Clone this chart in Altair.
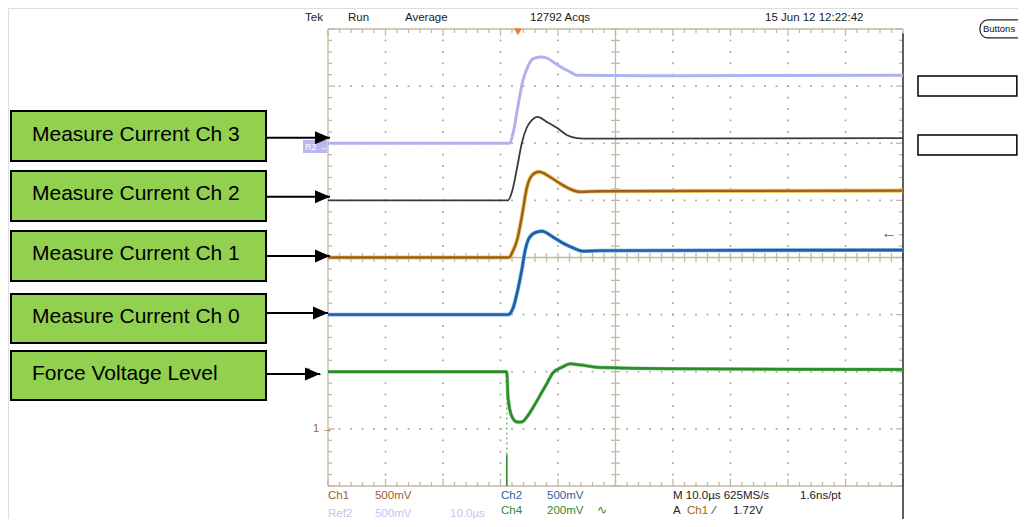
import altair as alt
import pandas as pd
import numpy as np

# ---------------- data (screen divisions: x 0..10 @10us/div, y 0..8) ----------------
ch3_x = [0, 3.16, 3.22, 3.30, 3.39, 3.48, 3.57, 3.69, 3.81, 3.95, 4.09, 4.21, 4.33, 6.0, 10]
ch3_y = [6.0, 6.0, 6.18, 6.63, 7.10, 7.35, 7.48, 7.51, 7.49, 7.40, 7.31, 7.25, 7.19, 7.18, 7.19]

ch2_x = [0, 3.13, 3.20, 3.29, 3.37, 3.46, 3.55, 3.64, 3.81, 3.98, 4.16, 4.33, 4.56, 10]
ch2_y = [5.0, 5.0, 5.15, 5.58, 6.0, 6.28, 6.41, 6.46, 6.37, 6.27, 6.14, 6.09, 6.08, 6.09]

ch1_x = [0, 3.15, 3.20, 3.29, 3.37, 3.46, 3.55, 3.67, 3.86, 4.03, 4.21, 4.38, 4.73, 10]
ch1_y = [4.0, 4.0, 4.08, 4.31, 4.71, 5.23, 5.44, 5.50, 5.41, 5.30, 5.20, 5.15, 5.16, 5.17]

ch0_x = [0, 3.13, 3.22, 3.30, 3.37, 3.43, 3.51, 3.64, 3.72, 3.91, 4.09, 4.26, 4.43, 4.73, 10]
ch0_y = [3.0, 3.0, 3.12, 3.43, 3.78, 4.13, 4.36, 4.45, 4.46, 4.36, 4.25, 4.17, 4.11, 4.12, 4.13]

force_x = [0, 3.11, 3.13, 3.20, 3.29, 3.37, 3.46, 3.57, 3.69, 3.81, 3.91, 4.07, 4.21, 4.38, 4.68, 4.96, 6.47, 10]
force_y = [2.0, 2.0, 1.56, 1.21, 1.12, 1.12, 1.21, 1.38, 1.59, 1.80, 1.98, 2.08, 2.14, 2.12, 2.08, 2.07, 2.05, 2.04]

spike_x = 3.11

label_texts = ["Measure Current Ch 3", "Measure Current Ch 2", "Measure Current Ch 1",
               "Measure Current Ch 0", "Force Voltage Level"]
label_box_y = [6.565, 5.514, 4.464, 3.361, 2.363]
label_box_y2 = [5.689, 4.639, 3.589, 2.503, 1.505]
label_text_y = [6.153, 5.103, 4.053, 2.958, 1.961]
arrow_y = [6.097, 5.064, 4.026, 3.028, 1.961]
arrow_tip = [0.035, 0.035, 0.035, 0.0, -0.139]

header_texts = ["Tek", "Run", "Average", "12792 Acqs", "15 Jun 12 12:22:42"]
header_x = [-0.40, 0.348, 1.339, 3.513, 7.60]

footer_texts = ["Ch1", "500mV", "Ch2", "500mV", "M 10.0µs 625MS/s", "1.6ns/pt",
                "Ch4", "200mV", "∿", "A", "Ch1", "⁄", "1.72V",
                "Ref2", "500mV", "10.0µs"]
footer_x = [0.0, 0.817, 3.009, 3.809, 6.0, 8.209,
            3.009, 3.809, 4.678, 6.0, 6.243, 6.70, 7.043,
            0.0, 0.817, 2.122]
footer_y = [-0.175] * 6 + [-0.438] * 7 + [-0.49] * 3
footer_col = ["#9a6424", "#9a6424", "#2a5f9e", "#2a5f9e", "#222222", "#222222",
              "#2e8b2e", "#2e8b2e", "#2e8b2e", "#222222", "#9a6424", "#222222", "#222222",
              "#c4c4ee", "#c4c4ee", "#c4c4ee"]

# ---------------- scales ----------------
XS = alt.Scale(domain=[-5.5652, 12.0], nice=False, zero=False)
YS = alt.Scale(domain=[-0.5777, 8.3676], nice=False, zero=False)


def ex(f):
    return alt.X(f"{f}:Q", scale=XS, axis=None)


def ey(f):
    return alt.Y(f"{f}:Q", scale=YS, axis=None)


PX_X = 1 / 57.5
PX_Y = 1 / 57.125
TAN = "#c2b9a0"

layers = []

# green label boxes
boxes = pd.DataFrame({"x": [-5.513] * 5, "x2": [-1.078] * 5, "y": label_box_y, "y2": label_box_y2})
layers.append(alt.Chart(boxes).mark_rect(fill="#92d050", stroke="#000000", strokeWidth=2).encode(
    x=ex("x"), x2="x2", y=ey("y"), y2="y2"))

# right side white boxes
wboxes = pd.DataFrame({"x": [10.261, 10.261], "x2": [11.98, 11.98], "y": [7.177, 6.144], "y2": [6.827, 5.794]})
layers.append(alt.Chart(wboxes).mark_rect(fill="white", stroke="#000000", strokeWidth=1.5).encode(
    x=ex("x"), x2="x2", y=ey("y"), y2="y2"))

# Buttons rounded box
bbox = pd.DataFrame({"x": [11.339], "x2": [12.2], "y": [8.158], "y2": [7.843]})
layers.append(alt.Chart(bbox).mark_rect(fill="white", stroke="#222222", strokeWidth=1.2, cornerRadius=8).encode(
    x=ex("x"), x2="x2", y=ey("y"), y2="y2"))

# R2 marker background
r2 = pd.DataFrame({"x": [-0.435], "x2": [-0.017], "y": [6.057], "y2": [5.829]})
layers.append(alt.Chart(r2).mark_rect(fill="#b8b8f0").encode(x=ex("x"), x2="x2", y=ey("y"), y2="y2"))

# grid dots
dots = []
for gx in [1, 2, 3, 4, 6, 7, 8, 9]:
    for k in range(1, 40):
        dots.append({"x": gx, "y": k * 0.2})
for gy in [1, 2, 3, 5, 6, 7]:
    for k in range(1, 50):
        dots.append({"x": k * 0.2, "y": gy})
layers.append(alt.Chart(pd.DataFrame(dots)).mark_square(size=3, color="#ada58e", opacity=1).encode(
    x=ex("x"), y=ey("y")))

# graticule rules and ticks
rules = []


def add(x, x2, y, y2):
    rules.append({"x": x, "x2": x2, "y": y, "y2": y2})


add(0, 0, 0, 8)
add(0, 10, 8, 8)
add(0, 10, 0, 0)
add(5, 5, 0, 8)
add(0, 10, 4, 4)
for k in range(51):
    xv = k * 0.2
    L = 7 if k % 5 == 0 else 4
    add(xv, xv, 8, 8 - L * PX_Y)
    add(xv, xv, 0, L * PX_Y)
    add(xv, xv, 4 - 4.5 * PX_Y, 4 + 4.5 * PX_Y)
for k in range(41):
    yv = k * 0.2
    L = 7 if k % 5 == 0 else 4
    add(0, L * PX_X, yv, yv)
    add(10 - L * PX_X, 10, yv, yv)
    add(5 - 4.5 * PX_X, 5 + 4.5 * PX_X, yv, yv)
layers.append(alt.Chart(pd.DataFrame(rules)).mark_rule(color=TAN, strokeWidth=1.3).encode(
    x=ex("x"), x2="x2", y=ey("y"), y2="y2"))

# right dark edge
edge = pd.DataFrame({"x": [10], "y": [7.92], "y2": [-0.7]})
layers.append(alt.Chart(edge).mark_rule(color="#2a2a2a", strokeWidth=1.5).encode(x=ex("x"), y=ey("y"), y2="y2"))


# traces
def trace(xs, ys, color, width, halo=None, halo_w=0):
    df = pd.DataFrame({"x": xs, "y": ys, "i": range(len(xs))})
    out = []
    if halo:
        out.append(alt.Chart(df).mark_line(color=halo, strokeWidth=halo_w, interpolate="monotone").encode(
            x=ex("x"), y=ey("y"), order="i:Q"))
    out.append(alt.Chart(df).mark_line(color=color, strokeWidth=width, interpolate="monotone").encode(
        x=ex("x"), y=ey("y"), order="i:Q"))
    return out


layers += trace(ch3_x, ch3_y, "#b0b2ee", 3.0)
layers += trace(ch2_x, ch2_y, "#3a3a3a", 1.8)
layers += trace(ch1_x, ch1_y, "#9c5f1c", 2.4, "#ecc860", 4.2)
layers += trace(ch0_x, ch0_y, "#1d5ea6", 2.4, "#6aa6de", 3.8)
layers += trace(force_x, force_y, "#2b8a2b", 2.4, "#7cc47c", 3.6)

# green spike
sp = pd.DataFrame({"x": [spike_x, spike_x], "y": [0.0, 0.55], "y2": [0.55, 1.95], "k": ["a", "b"]})
layers.append(alt.Chart(sp[sp.k == "a"]).mark_rule(color="#2b8a2b", strokeWidth=1.6).encode(
    x=ex("x"), y=ey("y"), y2="y2"))
layers.append(alt.Chart(sp[sp.k == "b"]).mark_rule(color="#5aa85a", strokeWidth=1.2, strokeDash=[2, 3]).encode(
    x=ex("x"), y=ey("y"), y2="y2"))

# trigger marker on top
trig = pd.DataFrame({"x": [3.304], "y": [7.95]})
layers.append(alt.Chart(trig).mark_point(shape="triangle-down", filled=True, size=60, color="#f07828", opacity=1).encode(
    x=ex("x"), y=ey("y")))

# small channel markers
marks = pd.DataFrame({
    "x": [-0.40, -0.26, 9.62, -0.40],
    "y": [5.94, 1.0, 4.43, 1.98],
    "text": ["R2 →", "1 →", "←", "4 →"],
    "color": ["#ffffff", "#9c5f1c", "#9c5f1c", "#2b8a2b"],
    "size": [9, 11, 16, 10],
})
layers.append(alt.Chart(marks).mark_text(align="left", baseline="middle", font="Liberation Sans").encode(
    x=ex("x"), y=ey("y"), text="text:N", color=alt.Color("color:N", scale=None),
    size=alt.Size("size:Q", scale=None)))

# arrows
arr = pd.DataFrame({"x": [-1.078] * 5, "x2": arrow_tip, "y": arrow_y})
layers.append(alt.Chart(arr).mark_rule(color="#000000", strokeWidth=2).encode(x=ex("x"), x2="x2", y=ey("y")))
heads = pd.DataFrame({"x": [t - 7.5 * PX_X for t in arrow_tip], "y": arrow_y})
layers.append(alt.Chart(heads).mark_point(shape="M-1,-0.87L1,0L-1,0.87Z", filled=True, size=225,
                                          color="#000000", opacity=1).encode(x=ex("x"), y=ey("y")))

# label texts
lab = pd.DataFrame({"x": [-5.148] * 5, "y": label_text_y, "text": label_texts})
layers.append(alt.Chart(lab).mark_text(align="left", baseline="middle", font="Liberation Sans", fontSize=21,
                                       color="#000000").encode(x=ex("x"), y=ey("y"), text="text:N"))

# header text
hdr = pd.DataFrame({"x": header_x, "y": [8.193] * 5, "text": header_texts})
layers.append(alt.Chart(hdr).mark_text(align="left", baseline="middle", font="Liberation Sans", fontSize=11.5,
                                       color="#1a1a1a").encode(x=ex("x"), y=ey("y"), text="text:N"))

# Buttons text
btn = pd.DataFrame({"x": [11.39], "y": [8.0], "text": ["Buttons"]})
layers.append(alt.Chart(btn).mark_text(align="left", baseline="middle", font="Liberation Sans", fontSize=9.5,
                                       color="#111111").encode(x=ex("x"), y=ey("y"), text="text:N"))

# footer text
ftr = pd.DataFrame({"x": footer_x, "y": footer_y, "text": footer_texts, "color": footer_col})
layers.append(alt.Chart(ftr).mark_text(align="left", baseline="middle", font="Liberation Sans", fontSize=11.5).encode(
    x=ex("x"), y=ey("y"), text="text:N", color=alt.Color("color:N", scale=None)))

chart = alt.layer(*layers).properties(
    width=1010, height=511, autosize=alt.AutoSizeParams(type="none"), padding=0
).configure_view(stroke=None).configure(background="white")

chart.save("out.html", embed_options={"renderer": "svg", "actions": False})
